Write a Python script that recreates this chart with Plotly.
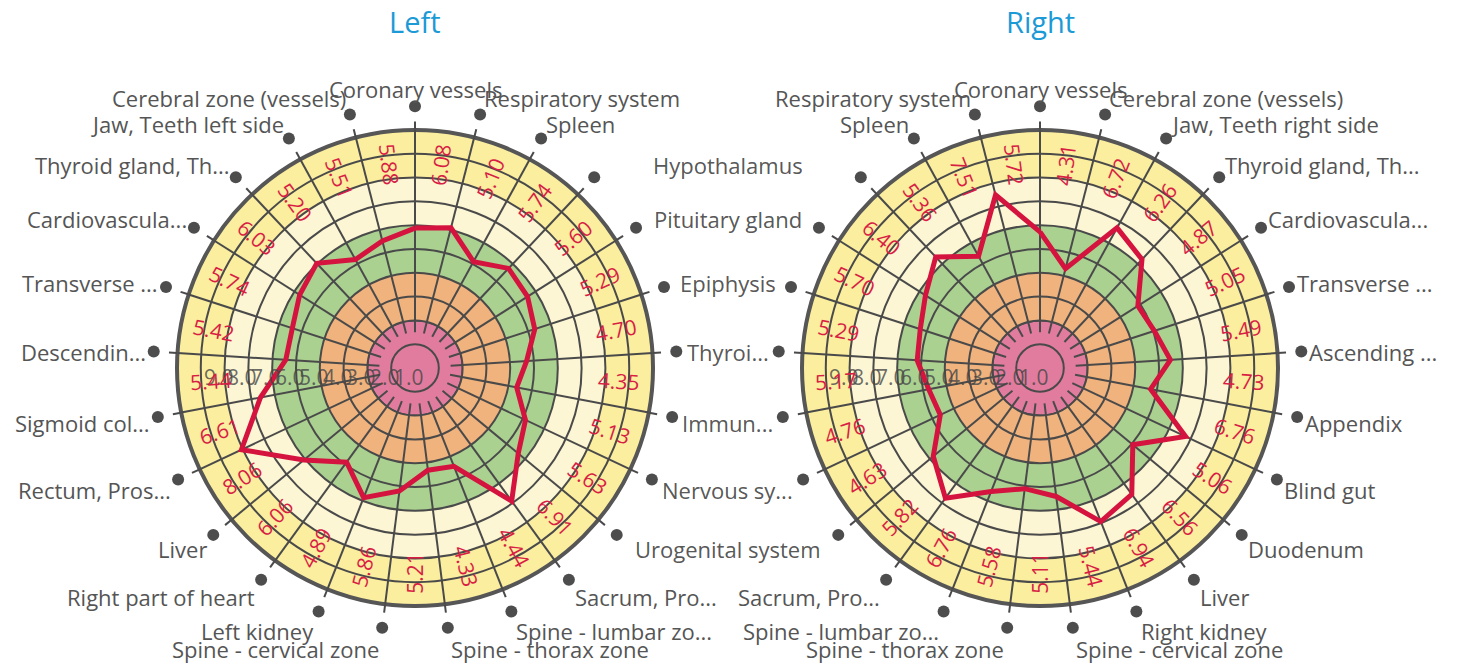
import math
import plotly.graph_objects as go

# ---------------- data ----------------
left_categories = ["Coronary vessels", "Respiratory system", "Spleen", "Hypothalamus", "Pituitary gland",
                   "Epiphysis", "Thyroi...", "Immun...", "Nervous sy...", "Urogenital system",
                   "Sacrum, Pro...", "Spine - lumbar zo...", "Spine - thorax zone", "Spine - cervical zone",
                   "Left kidney", "Right part of heart", "Liver", "Rectum, Pros...", "Sigmoid col...",
                   "Descendin...", "Transverse ...", "Cardiovascula...", "Thyroid gland, Th...",
                   "Jaw, Teeth left side", "Cerebral zone (vessels)"]
left_values = [5.88, 6.08, 5.10, 5.74, 5.60, 5.29, 4.70, 4.35, 5.13, 5.63, 6.91, 4.44, 4.33, 5.21,
               5.86, 4.89, 6.06, 8.06, 6.61, 5.44, 5.42, 5.74, 6.03, 5.20, 5.51]

right_categories = ["Coronary vessels", "Respiratory system", "Spleen", "Hypothalamus", "Pituitary gland",
                    "Epiphysis", "Thyroi...", "Immun...", "Nervous sy...", "Urogenital system",
                    "Sacrum, Pro...", "Spine - lumbar zo...", "Spine - thorax zone", "Spine - cervical zone",
                    "Right kidney", "Liver", "Duodenum", "Blind gut", "Appendix", "Ascending ...",
                    "Transverse ...", "Cardiovascula...", "Thyroid gland, Th...", "Jaw, Teeth right side",
                    "Cerebral zone (vessels)"]
right_values = [5.72, 7.51, 5.36, 6.40, 5.70, 5.29, 5.17, 4.76, 4.63, 5.82, 6.76, 5.58, 5.11, 5.44,
                6.94, 6.56, 5.06, 6.76, 4.73, 5.49, 5.05, 4.87, 6.26, 6.72, 4.31]

zone_edges = [0, 2, 4, 6, 8, 10]
zone_colors = ["#e27c9f", "#f1b37d", "#abd191", "#fcf6d4", "#fbee9f"]
radial_tick_labels = ["1.0", "2.0", "3.0", "4.0", "5.0", "6.0", "7.0", "8.0", "9.0"]
radial_tick_positions = [0, 1, 2, 3, 4, 5, 6, 7, 8]
titles = ["Left", "Right"]

# ---------------- geometry / style ----------------
W, H = 1458, 665
R_PX = 238                        # pixel radius of the value-10 circle
CY = 368
CENTERS = [415, 1040]
GAP_CENTER = (CENTERS[0] + CENTERS[1]) / 2
DOT_R = 11.0                      # radial position of category dots (data units)
DOT_RANGE = 11.6                  # radial range of the dot layer
VALUE_LABEL_R = 8.6               # radial position of value labels (data units)
LAB_RX, LAB_RY, LAB_DY = 268, 281, 2   # category label placement (px)
TICKLAB_DX, TICKLAB_DY = -0.25, -0.38  # radial tick label offset (data units)
GRID = "#4a4a4a"
TEXT = "#555555"
GAP_TEXT = "rgba(0,0,0,0.42)"     # labels drawn twice (both charts) in the middle gap
RED = "#d4143f"
FONT = "Open Sans"

fig = go.Figure()


def dom(cx, rpx):
    yb = H - CY
    return [(cx - rpx) / W, (cx + rpx) / W], [(yb - rpx) / H, (yb + rpx) / H]


charts = [
    dict(cats=left_categories, vals=left_values, direction="clockwise", sign=1),
    dict(cats=right_categories, vals=right_values, direction="counterclockwise", sign=-1),
]

annotations = []
layout_polars = {}
n = len(left_categories)
step = 360.0 / n
subplot_names = [("polar", "polar2", "polar5"), ("polar3", "polar4", "polar6")]

for ci, ch in enumerate(charts):
    bottom, top, lab = subplot_names[ci]
    cx = CENTERS[ci]
    xd, yd = dom(cx, R_PX)
    xl, yl = dom(cx, R_PX * DOT_RANGE / zone_edges[-1])

    # zone bands (pink is the background of the bottom polar)
    fig.add_trace(go.Barpolar(
        r=[zone_edges[i + 1] - zone_edges[i] for i in range(1, len(zone_colors))],
        base=zone_edges[1:-1],
        theta=[0] * (len(zone_colors) - 1),
        width=[360] * (len(zone_colors) - 1),
        marker=dict(color=zone_colors[1:], line=dict(width=0)),
        subplot=bottom, showlegend=False, hoverinfo="skip"))

    cats = ch["cats"]
    vals = ch["vals"]

    # data line
    fig.add_trace(go.Scatterpolar(
        r=vals + [vals[0]], theta=cats + [cats[0]], mode="lines",
        line=dict(color=RED, width=5), subplot=top, showlegend=False, hoverinfo="skip"))

    # category dots
    fig.add_trace(go.Scatterpolar(
        r=[DOT_R] * n, theta=cats, mode="markers",
        marker=dict(size=12, color="#4d4d4d"), cliponaxis=False,
        subplot=lab, showlegend=False, hoverinfo="skip"))

    layout_polars[bottom] = dict(
        domain=dict(x=xd, y=yd),
        bgcolor=zone_colors[0],
        angularaxis=dict(type="linear", showgrid=False, showticklabels=False, ticks="",
                         showline=True, linecolor="#565656", linewidth=4),
        radialaxis=dict(range=[zone_edges[0], zone_edges[-1]], tickvals=radial_tick_positions,
                        showgrid=True, gridcolor=GRID, gridwidth=2,
                        showline=False, ticks="", showticklabels=False),
    )
    layout_polars[top] = dict(
        domain=dict(x=xd, y=yd),
        bgcolor="rgba(0,0,0,0)",
        hole=0.15,
        angularaxis=dict(type="category", categoryarray=cats, direction=ch["direction"], rotation=90,
                         showgrid=True, gridcolor=GRID, gridwidth=2, showline=False,
                         ticks="outside", ticklen=8, tickwidth=2, tickcolor=GRID, showticklabels=False),
        radialaxis=dict(range=[1.5, zone_edges[-1]], tickvals=list(range(2, zone_edges[-1])),
                        showgrid=True, gridcolor=GRID, gridwidth=2, showticklabels=False,
                        showline=False, ticks=""),
    )
    layout_polars[lab] = dict(
        domain=dict(x=xl, y=yl),
        bgcolor="rgba(0,0,0,0)",
        angularaxis=dict(type="category", categoryarray=cats, direction=ch["direction"], rotation=90,
                         showgrid=False, showline=False, ticks="", showticklabels=False),
        radialaxis=dict(range=[0, DOT_RANGE], visible=False),
    )

    phis = [ch["sign"] * step * i for i in range(n)]

    # category labels
    for i, name in enumerate(cats):
        a = math.radians(phis[i])
        s, c = math.sin(a), math.cos(a)
        ypx = CY - LAB_RY * c + LAB_DY
        color = TEXT
        if abs(s) < 0.1:
            xpx, xanc = cx + LAB_RX * s, "center"
        elif s * ch["sign"] > 0.62:     # labels facing the gap between the two charts
            xpx, xanc = GAP_CENTER, "center"
            color = GAP_TEXT
        else:
            xpx, xanc = cx + LAB_RX * s, ("left" if s > 0 else "right")
        annotations.append(dict(
            x=xpx / W, y=1 - ypx / H, xref="paper", yref="paper", text=name, showarrow=False,
            xanchor=xanc, yanchor="middle", font=dict(family=FONT, size=22, color=color)))

    # hidden cartesian overlay for rotated value labels and radial tick labels
    xa = "x" if ci == 0 else "x2"
    ya = "y" if ci == 0 else "y2"
    fig.add_trace(go.Scatter(x=[0], y=[0], mode="markers", marker=dict(opacity=0),
                             xaxis=xa, yaxis=ya, showlegend=False, hoverinfo="skip"))
    for tv, tt in zip(radial_tick_positions, radial_tick_labels):
        annotations.append(dict(
            x=-tv + TICKLAB_DX, y=TICKLAB_DY, xref=xa, yref=ya, text=tt, showarrow=False,
            font=dict(family=FONT, size=21, color="rgba(70,70,70,0.8)"),
            xanchor="center", yanchor="middle"))
    for i, v in enumerate(vals):
        a = (phis[i] - step / 2) % 360
        rot = a - 90 if a < 180 else a - 270
        annotations.append(dict(
            x=VALUE_LABEL_R * math.sin(math.radians(a)),
            y=VALUE_LABEL_R * math.cos(math.radians(a)),
            xref=xa, yref=ya, text=f"{v:.2f}", showarrow=False, textangle=rot,
            font=dict(family=FONT, size=21, color="#d81e45"),
            xanchor="center", yanchor="middle"))

    annotations.append(dict(
        x=cx / W, y=1, xref="paper", yref="paper", text=titles[ci],
        showarrow=False, font=dict(family=FONT, size=29, color="#1b9ad6"),
        xanchor="center", yanchor="top"))

xd0, yd0 = dom(CENTERS[0], R_PX)
xd1, yd1 = dom(CENTERS[1], R_PX)
fig.update_layout(
    width=W, height=H,
    margin=dict(l=0, r=0, t=0, b=0),
    paper_bgcolor="white", plot_bgcolor="rgba(0,0,0,0)",
    hovermode=False,
    xaxis=dict(domain=xd0, range=[-10, 10], visible=False, fixedrange=True, anchor="y"),
    yaxis=dict(domain=yd0, range=[-10, 10], visible=False, fixedrange=True, anchor="x"),
    xaxis2=dict(domain=xd1, range=[-10, 10], visible=False, fixedrange=True, anchor="y2"),
    yaxis2=dict(domain=yd1, range=[-10, 10], visible=False, fixedrange=True, anchor="x2"),
    annotations=annotations,
    **layout_polars,
)

fig.write_html("out.html", config={"displayModeBar": False},
               post_script="document.body.style.margin='0';document.body.style.overflow='hidden';")
